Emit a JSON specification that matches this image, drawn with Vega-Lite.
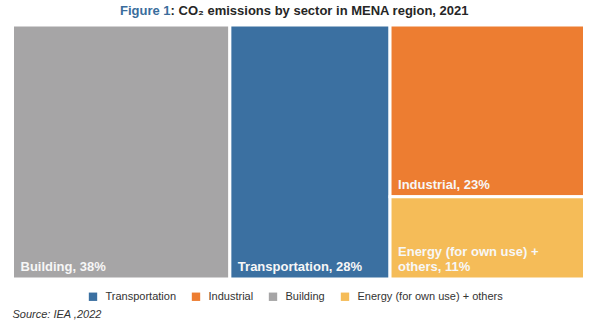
{
  "$schema": "https://vega.github.io/schema/vega-lite/v6.json",
  "background": "white",
  "padding": {"left": 10.5, "top": 4, "right": 0, "bottom": 0},
  "title": {
    "text": ": CO₂ emissions by sector in MENA region, 2021",
    "subtitle": "Figure 1",
    "anchor": "start",
    "align": "left",
    "frame": "group",
    "dx": 107.5,
    "offset": 6,
    "font": "Liberation Sans",
    "fontSize": 13,
    "fontWeight": "bold",
    "color": "#262626",
    "subtitleFont": "Liberation Sans",
    "subtitleFontSize": 13,
    "subtitleFontWeight": "bold",
    "subtitleColor": "#3a6d9c",
    "subtitlePadding": -13,
    "encoding": {"dx": {"value": 158.1}}
  },
  "config": {"view": {"stroke": null}},
  "vconcat": [
    {
      "width": 572,
      "height": 254,
      "title": {
        "text": "Source: IEA ,2022",
        "orient": "bottom",
        "anchor": "start",
        "frame": "group",
        "font": "Liberation Sans",
        "fontSize": 11,
        "fontStyle": "italic",
        "fontWeight": "normal",
        "color": "#333333",
        "offset": 28
      },
      "data": {
        "values": [
          {"sector": "Building", "value": 38, "col": 1, "label": "Building, 38%", "labelTop": ""},
          {"sector": "Transportation", "value": 28, "col": 2, "label": "Transportation, 28%", "labelTop": ""},
          {"sector": "Industrial", "value": 23, "col": 3, "label": "Industrial, 23%", "labelTop": ""},
          {"sector": "Energy (for own use) + others", "value": 11, "col": 3, "label": "others, 11%", "labelTop": "Energy (for own use) +"}
        ]
      },
      "transform": [
        {"stack": "value", "groupby": [], "sort": [{"field": "col", "order": "ascending"}, {"field": "value", "order": "ascending"}], "as": ["s0", "s1"]},
        {"joinaggregate": [{"op": "min", "field": "s0", "as": "x0"}, {"op": "max", "field": "s1", "as": "x1"}], "groupby": ["col"]},
        {"stack": "value", "groupby": ["col"], "sort": [{"field": "value", "order": "ascending"}], "offset": "normalize", "as": ["y0", "y1"]}
      ],
      "layer": [
        {
          "mark": {"type": "rect", "stroke": "white", "strokeWidth": 3},
          "encoding": {
            "x": {"field": "x0", "type": "quantitative", "scale": {"domain": [0, 100], "nice": false}, "axis": null},
            "x2": {"field": "x1"},
            "y": {"field": "y0", "type": "quantitative", "scale": {"domain": [0, 1], "nice": false}, "axis": null},
            "y2": {"field": "y1"},
            "color": {
              "field": "sector",
              "type": "nominal",
              "scale": {
                "domain": ["Transportation", "Industrial", "Building", "Energy (for own use) + others"],
                "range": ["#3b70a1", "#ed7d31", "#a6a5a6", "#f5bc58"]
              },
              "legend": {
                "orient": "none",
                "direction": "horizontal",
                "legendX": 75,
                "legendY": 266,
                "title": null,
                "symbolType": "square",
                "symbolSize": 70,
                "symbolStrokeWidth": 0,
                "labelFont": "Liberation Sans",
                "labelFontSize": 11,
                "labelColor": "#333333",
                "labelOffset": 7,
                "columnPadding": 14
              }
            }
          }
        },
        {
          "mark": {
            "type": "text",
            "align": "left",
            "baseline": "bottom",
            "dx": 8,
            "dy": -5,
            "font": "Liberation Sans",
            "fontSize": 13,
            "fontWeight": "bold",
            "color": "#f7f7f7"
          },
          "encoding": {
            "x": {"field": "x0", "type": "quantitative"},
            "y": {"field": "y0", "type": "quantitative"},
            "text": {"field": "label"}
          }
        },
        {
          "mark": {
            "type": "text",
            "align": "left",
            "baseline": "bottom",
            "dx": 8,
            "dy": -20,
            "font": "Liberation Sans",
            "fontSize": 13,
            "fontWeight": "bold",
            "color": "#f7f7f7"
          },
          "encoding": {
            "x": {"field": "x0", "type": "quantitative"},
            "y": {"field": "y0", "type": "quantitative"},
            "text": {"field": "labelTop"}
          }
        }
      ]
    }
  ]
}
